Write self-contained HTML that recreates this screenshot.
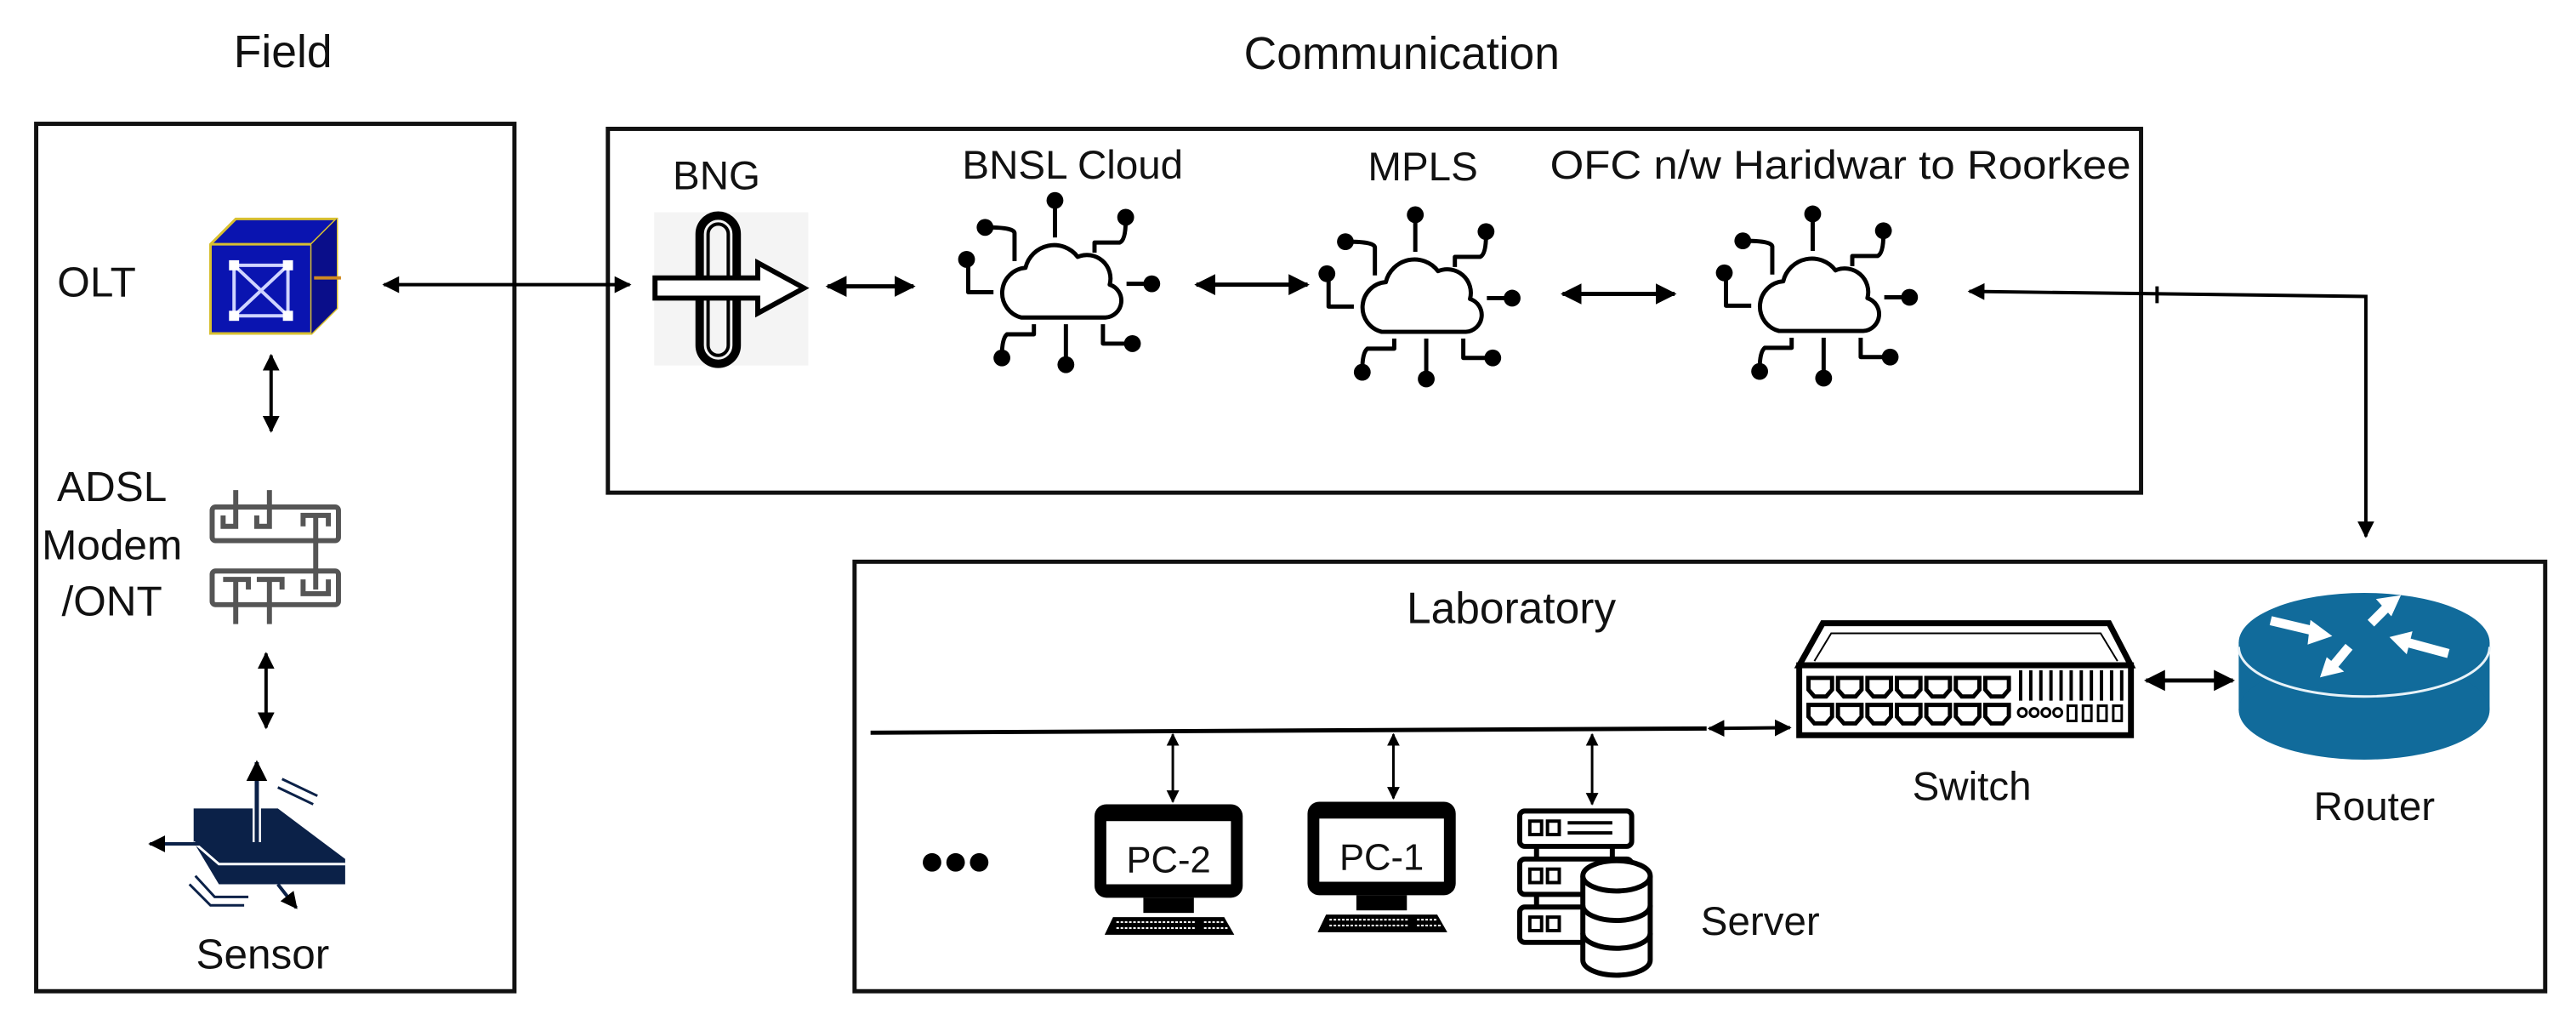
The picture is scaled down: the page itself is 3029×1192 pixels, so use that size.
<!DOCTYPE html>
<html><head><meta charset="utf-8"><style>
html,body{margin:0;padding:0;background:#fff}
svg{display:block}
text{font-family:"Liberation Sans",sans-serif;fill:#111}
</style></head><body>
<svg width="3029" height="1192" viewBox="0 0 3029 1192" xmlns="http://www.w3.org/2000/svg">
<defs>
<marker id="ah" viewBox="0 0 10 10" refX="9" refY="5" markerWidth="5" markerHeight="5" orient="auto-start-reverse"><path d="M0 0 L10 5 L0 10 z" fill="#000"/></marker>
<g id="cloud" fill="none" stroke="#000" stroke-width="5" stroke-linejoin="round">
<path d="M-45 47 H55 A20 20 0 0 0 60 8 A28 28 0 0 0 22 -25 A35 35 0 0 0 -40 -12 A30 30 0 0 0 -45 47 Z" fill="#fff"/>
<path d="M-5 -48 V-90"/><circle cx="-5" cy="-92" r="10" fill="#000" stroke="none"/>
<path d="M-53 -20 V-53 Q-53 -60 -85 -60"/><circle cx="-88" cy="-60" r="10" fill="#000" stroke="none"/>
<path d="M42 -30 V-42 H72 Q79 -45 79 -68"/><circle cx="79" cy="-72" r="10" fill="#000" stroke="none"/>
<path d="M-78 17 H-108 V-20"/><circle cx="-110" cy="-22" r="10" fill="#000" stroke="none"/>
<path d="M80 7 H108"/><circle cx="110" cy="7" r="10" fill="#000" stroke="none"/>
<path d="M-30 55 V67 H-62 Q-68 72 -68 93"/><circle cx="-68" cy="95" r="10" fill="#000" stroke="none"/>
<path d="M8 55 V100"/><circle cx="8" cy="103" r="10" fill="#000" stroke="none"/>
<path d="M52 55 V78 H85"/><circle cx="87" cy="78" r="10" fill="#000" stroke="none"/>
</g>
<g id="pc">
<rect x="0" y="0" width="176" height="111" rx="14" fill="#000"/>
<rect x="14" y="20" width="148" height="75" fill="#fff"/>
<rect x="58" y="111" width="60" height="18" fill="#000"/>
<path d="M12 155 L22 134 H154 L166 155 Z" fill="#000"/>
<path d="M26 140 H120 M26 147 H120 M130 140 H155 M130 147 H158" stroke="#fff" stroke-width="2" stroke-dasharray="3 2"/>
</g>
</defs>
<g transform="scale(0.99)">
<!-- titles -->
<text x="336" y="80" font-size="54" text-anchor="middle">Field</text>
<text x="1665" y="82" font-size="54" text-anchor="middle">Communication</text>

<!-- boxes -->
<rect x="43" y="147" width="568" height="1030" fill="none" stroke="#111" stroke-width="5"/>
<rect x="722" y="153" width="1821" height="432" fill="none" stroke="#111" stroke-width="5"/>
<rect x="1015" y="667" width="2008" height="510" fill="none" stroke="#111" stroke-width="5"/>

<!-- Field content -->
<text x="68" y="352" font-size="50">OLT</text>
<g>
<path d="M250 290 L280 260 L400 260 L400 366 L370 396 L250 396 Z" fill="#0a14b0" stroke="#d8c030" stroke-width="3"/>
<path d="M250 290 H370 V396 M370 290 L400 260" fill="none" stroke="#d8c030" stroke-width="3"/>
<path d="M370 290 L400 260 V366 L370 396 Z" fill="#0a0e8a"/>
<path d="M278 315 H342 V375 H278 Z M278 315 L342 375 M342 315 L278 375" fill="none" stroke="#cfd4ff" stroke-width="4"/>
<rect x="272" y="309" width="12" height="12" fill="#fff"/><rect x="336" y="309" width="12" height="12" fill="#fff"/>
<rect x="272" y="369" width="12" height="12" fill="#fff"/><rect x="336" y="369" width="12" height="12" fill="#fff"/>
<line x1="373" y1="330" x2="405" y2="330" stroke="#d08a20" stroke-width="4"/>
</g>
<line x1="322" y1="422" x2="322" y2="512" stroke="#000" stroke-width="4" marker-start="url(#ah)" marker-end="url(#ah)"/>
<text x="133" y="595" font-size="50" text-anchor="middle">ADSL</text>
<text x="133" y="664" font-size="50" text-anchor="middle">Modem</text>
<text x="133" y="731" font-size="50" text-anchor="middle">/ONT</text>
<g fill="none" stroke="#555" stroke-width="6">
<rect x="252" y="602" width="150" height="40" rx="4"/>
<rect x="252" y="678" width="150" height="40" rx="4"/>
<path d="M280 582 V625 H265 V612 M320 582 V625 H305 V612 M360 625 V612 H390 V625 M375 612 V700"/>
<path d="M265 688 H295 V700 M280 688 V741 M305 688 H335 V700 M320 688 V741 M360 688 V705 H390 V688"/>
</g>
<line x1="316" y1="776" x2="316" y2="864" stroke="#000" stroke-width="4" marker-start="url(#ah)" marker-end="url(#ah)"/>
<g>
<path d="M230 960 L330 960 L410 1020 L410 1050 L260 1050 L230 1000 Z" fill="#0b2148"/>
<path d="M230 1000 L260 1026 H410" fill="none" stroke="#fff" stroke-width="3"/>
<path d="M305 1000 V915" stroke="#fff" stroke-width="10"/>
<path d="M305 1000 V905" stroke="#0b2148" stroke-width="5" marker-end="url(#ah)"/>
<path d="M240 1002 H178" stroke="#0b2148" stroke-width="4" marker-end="url(#ah)"/>
<path d="M330 1050 L352 1078" stroke="#0b2148" stroke-width="4" marker-end="url(#ah)"/>
<path d="M330 935 L372 955 M335 925 L377 945 M225 1050 L250 1075 H290 M232 1040 L255 1065 H295" fill="none" stroke="#0b2148" stroke-width="3"/>
</g>
<text x="312" y="1150" font-size="50" text-anchor="middle">Sensor</text>

<!-- Communication -->
<line x1="456" y1="338" x2="748" y2="338" stroke="#000" stroke-width="4" marker-start="url(#ah)" marker-end="url(#ah)"/>
<text x="851" y="225" font-size="48" text-anchor="middle">BNG</text>
<rect x="777" y="252" width="183" height="182" fill="#f4f4f4"/>
<g fill="none" stroke="#000">
<rect x="831" y="256" width="44" height="176" rx="22" stroke-width="10"/>
<rect x="841" y="266" width="24" height="156" rx="12" stroke-width="4"/>
<path d="M778 330 H900 V312 L955 342 L900 372 V354 H778 Z" fill="#fff" stroke-width="6"/>
</g>
<line x1="983" y1="340" x2="1085" y2="340" stroke="#000" stroke-width="5" marker-start="url(#ah)" marker-end="url(#ah)"/>
<text x="1274" y="212" font-size="48" text-anchor="middle">BNSL Cloud</text>
<use href="#cloud" x="1258" y="330"/>
<line x1="1421" y1="338" x2="1553" y2="338" stroke="#000" stroke-width="5" marker-start="url(#ah)" marker-end="url(#ah)"/>
<text x="1690" y="214" font-size="48" text-anchor="middle">MPLS</text>
<use href="#cloud" x="1686" y="347"/>
<line x1="1856" y1="349" x2="1989" y2="349" stroke="#000" stroke-width="5" marker-start="url(#ah)" marker-end="url(#ah)"/>
<text x="2186" y="212" font-size="48" text-anchor="middle" textLength="690" lengthAdjust="spacingAndGlyphs">OFC n/w Haridwar to Roorkee</text>
<use href="#cloud" x="2158" y="346"/>
<polyline points="2339,346 2810,352 2810,637" fill="none" stroke="#000" stroke-width="4" marker-start="url(#ah)" marker-end="url(#ah)"/>
<line x1="2562" y1="340" x2="2562" y2="360" stroke="#000" stroke-width="4"/>

<!-- Laboratory -->
<text x="1795" y="740" font-size="52" text-anchor="middle">Laboratory</text>
<g>
<path d="M2137 790 L2165 740 H2505 L2531 790 Z" fill="#fff" stroke="#000" stroke-width="7"/>
<path d="M2155 785 L2175 752 H2495 L2515 785" fill="none" stroke="#000" stroke-width="2"/>
<rect x="2137" y="790" width="394" height="83" fill="#fff" stroke="#000" stroke-width="7"/>
<g fill="none" stroke="#000" stroke-width="5">
<path d="M2148 805 h28 v14 l-7 8 h-14 l-7 -8 z M2183 805 h28 v14 l-7 8 h-14 l-7 -8 z M2218 805 h28 v14 l-7 8 h-14 l-7 -8 z M2253 805 h28 v14 l-7 8 h-14 l-7 -8 z M2288 805 h28 v14 l-7 8 h-14 l-7 -8 z M2323 805 h28 v14 l-7 8 h-14 l-7 -8 z M2358 805 h28 v14 l-7 8 h-14 l-7 -8 z"/>
<path d="M2148 837 h28 v14 l-7 8 h-14 l-7 -8 z M2183 837 h28 v14 l-7 8 h-14 l-7 -8 z M2218 837 h28 v14 l-7 8 h-14 l-7 -8 z M2253 837 h28 v14 l-7 8 h-14 l-7 -8 z M2288 837 h28 v14 l-7 8 h-14 l-7 -8 z M2323 837 h28 v14 l-7 8 h-14 l-7 -8 z M2358 837 h28 v14 l-7 8 h-14 l-7 -8 z"/>
<path d="M2400 796 V832 M2412 796 V832 M2424 796 V832 M2436 796 V832 M2448 796 V832 M2460 796 V832 M2472 796 V832 M2484 796 V832 M2496 796 V832 M2508 796 V832 M2520 796 V832" stroke-width="4"/>
<circle cx="2402" cy="846" r="5" stroke-width="3"/><circle cx="2416" cy="846" r="5" stroke-width="3"/><circle cx="2430" cy="846" r="5" stroke-width="3"/><circle cx="2444" cy="846" r="5" stroke-width="3"/>
<rect x="2456" y="838" width="10" height="18" stroke-width="3"/><rect x="2474" y="838" width="10" height="18" stroke-width="3"/><rect x="2492" y="838" width="10" height="18" stroke-width="3"/><rect x="2510" y="838" width="10" height="18" stroke-width="3"/>
</g>
</g>
<text x="2342" y="950" font-size="48" text-anchor="middle">Switch</text>
<line x1="2549" y1="808" x2="2652" y2="808" stroke="#000" stroke-width="5" marker-start="url(#ah)" marker-end="url(#ah)"/>
<g>
<rect x="2659" y="763" width="298" height="80" fill="#116b9b"/>
<ellipse cx="2808" cy="843" rx="149" ry="59" fill="#116b9b"/>
<ellipse cx="2808" cy="763" rx="149" ry="59" fill="#116b9b"/>
<path d="M2659 768 A149 59 0 0 0 2957 768" fill="none" stroke="#e8f2f8" stroke-width="3"/>
<g stroke="#fff" stroke-width="11" fill="#fff">
<path d="M2697 737 L2752 750"/><path d="M2768 755 L2745 738 L2742 764 Z" stroke-width="2"/>
<path d="M2816 740 L2838 718"/><path d="M2850 708 L2824 712 L2840 730 Z" stroke-width="2"/>
<path d="M2908 776 L2856 762"/><path d="M2840 757 L2858 775 L2864 751 Z" stroke-width="2"/>
<path d="M2790 768 L2770 792"/><path d="M2757 803 L2782 797 L2764 782 Z" stroke-width="2"/>
</g>
</g>
<text x="2820" y="974" font-size="48" text-anchor="middle">Router</text>

<line x1="1034" y1="870" x2="2027" y2="865" stroke="#000" stroke-width="5"/>
<line x1="2030" y1="865" x2="2126" y2="864" stroke="#000" stroke-width="4" marker-start="url(#ah)" marker-end="url(#ah)"/>
<line x1="1393" y1="872" x2="1393" y2="952" stroke="#000" stroke-width="3" marker-start="url(#ah)" marker-end="url(#ah)"/>
<line x1="1655" y1="872" x2="1655" y2="948" stroke="#000" stroke-width="3" marker-start="url(#ah)" marker-end="url(#ah)"/>
<line x1="1891" y1="872" x2="1891" y2="955" stroke="#000" stroke-width="3" marker-start="url(#ah)" marker-end="url(#ah)"/>

<circle cx="1107" cy="1024" r="11" fill="#000"/><circle cx="1135" cy="1024" r="11" fill="#000"/><circle cx="1163" cy="1024" r="11" fill="#000"/>
<use href="#pc" x="1300" y="955"/>
<text x="1388" y="1036" font-size="44" text-anchor="middle">PC-2</text>
<use href="#pc" x="1553" y="952"/>
<text x="1641" y="1033" font-size="44" text-anchor="middle">PC-1</text>

<g fill="#fff" stroke="#000" stroke-width="6">
<rect x="1805" y="963" width="133" height="42" rx="6"/>
<rect x="1805" y="1020" width="133" height="42" rx="6"/>
<rect x="1805" y="1077" width="133" height="42" rx="6"/>
<path d="M1825 1005 V1020 M1915 1005 V1020 M1825 1062 V1077 M1915 1062 V1077"/>
<rect x="1817" y="975" width="14" height="16" stroke-width="4"/><rect x="1838" y="975" width="14" height="16" stroke-width="4"/>
<rect x="1817" y="1032" width="14" height="16" stroke-width="4"/><rect x="1838" y="1032" width="14" height="16" stroke-width="4"/>
<rect x="1817" y="1089" width="14" height="16" stroke-width="4"/><rect x="1838" y="1089" width="14" height="16" stroke-width="4"/>
<path d="M1862 977 H1915 M1862 989 H1915" stroke-width="4"/>
<path d="M1880 1040 V1140 A40 18 0 0 0 1960 1140 V1040" />
<ellipse cx="1920" cy="1040" rx="40" ry="18"/>
<path d="M1880 1075 A40 18 0 0 0 1960 1075 M1880 1108 A40 18 0 0 0 1960 1108" fill="none"/>
</g>
<text x="2020" y="1110" font-size="48">Server</text>
</g>
</svg>
</body></html>
